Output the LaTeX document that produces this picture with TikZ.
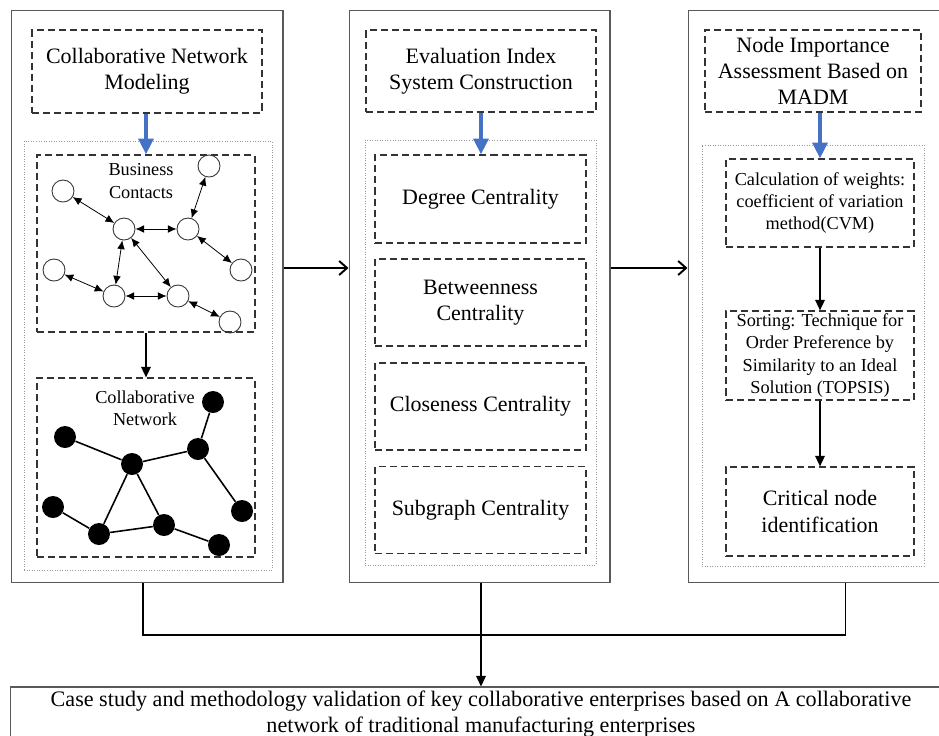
\documentclass[tikz,border=0pt]{standalone}
\usepackage{fontspec}
\setmainfont{Liberation Serif}
\usepackage{xcolor}
\usepackage{tikz}
\usetikzlibrary{arrows.meta,positioning,calc}
\definecolor{arrblue}{RGB}{68,114,196}
\tikzset{
  panel/.style={rectangle, draw=black!65, line width=0.6pt,
                minimum height=11.46cm, inner sep=0pt},
  holder/.style={rectangle, draw=black!40, densely dotted, line width=0.45pt},
  dbox/.style={rectangle, draw=black!80, dash pattern=on 4pt off 2.3pt,
               line width=0.75pt, align=center, inner sep=1pt,
               font=\fontsize{12.5}{14.7}\selectfont},
  sbox/.style={dbox, font=\fontsize{10.4}{12.8}\selectfont},
  lbl/.style={align=center, inner sep=1pt, font=\fontsize{10.4}{12.6}\selectfont},
  wnode/.style={circle, draw=black!80, line width=0.5pt, minimum size=0.44cm, inner sep=0pt},
  bnode/.style={circle, fill=black, minimum size=0.44cm, inner sep=0pt},
  link/.style={{Latex[length=5pt,width=4.4pt]}-{Latex[length=5pt,width=4.4pt]}, line width=0.45pt},
  tie/.style={line width=0.9pt},
  bluearr/.style={-{Triangle[length=9pt,width=8.5pt]}, draw=arrblue, line width=2pt},
  flow/.style={-{Triangle[length=6pt,width=5.5pt]}, line width=0.75pt},
  bigarr/.style={-{Straight Barb[length=4.5pt,width=8pt]}, line width=1.1pt},
  joint/.style={line width=0.6pt},
}

\begin{document}
\begin{tikzpicture}[x=0.02cm, y=-0.02cm]
  \useasboundingbox (0,0) rectangle (939,735);
  \clip (0,0) rectangle (939,735);
  % three stage panels
  \node[panel, minimum width=5.44cm] (pL) at (147,296.5) {};
  \node[panel, minimum width=5.22cm] (pM) at (479.5,296.5) {};
  \node[panel, minimum width=5.54cm] (pR) at (826.5,296.5) {};
  % stage 1: network modeling
  \node[dbox, minimum width=4.6cm, minimum height=1.66cm] (hL) at (147,71.5)
       {Collaborative Network\\Modeling};
  \node[holder, minimum width=4.96cm, minimum height=8.58cm] (gL) at (148,355.5) {};
  \node[dbox, minimum width=4.36cm, minimum height=3.54cm] (bc) at (146,243.5) {};
  \node[dbox, minimum width=4.36cm, minimum height=3.58cm] (cn) at (146,467.5) {};
  \node[lbl] (bcl) at (141,181) {Business\\Contacts};
  \node[lbl] (cnl) at (145,408.5) {Collaborative\\Network};
  % business contacts graph
  \node[wnode] (n1) at (63,191)  {};
  \node[wnode] (n2) at (124,229) {};
  \node[wnode] (n3) at (188,229) {};
  \node[wnode] (n4) at (209,166) {};
  \node[wnode] (n5) at (241,270) {};
  \node[wnode] (n6) at (54,270)  {};
  \node[wnode] (n7) at (114,296) {};
  \node[wnode] (n8) at (178,296) {};
  \node[wnode] (n9) at (230,322) {};
  \foreach \a/\b in {n1/n2, n2/n3, n3/n4, n3/n5, n2/n7, n2/n8, n6/n7, n7/n8, n8/n9}
    \draw[link] (\a) -- (\b);
  % collaborative network graph
  \node[bnode] (m1) at (65,437)  {};
  \node[bnode] (m2) at (132,464) {};
  \node[bnode] (m3) at (198,449) {};
  \node[bnode] (m4) at (213,402) {};
  \node[bnode] (m5) at (242,511) {};
  \node[bnode] (m6) at (53,507)  {};
  \node[bnode] (m7) at (99,534)  {};
  \node[bnode] (m8) at (164,525) {};
  \node[bnode] (m9) at (219,545) {};
  \foreach \a/\b in {m1/m2, m2/m3, m3/m4, m3/m5, m2/m7, m2/m8, m6/m7, m7/m8, m8/m9}
    \draw[tie] (\a) -- (\b);
  \draw[bluearr] (hL.south -| bc.north) -- (bc.north);
  \draw[flow] (bc.south) -- (cn.north);
  % stage 2: index system
  \node[dbox, minimum width=4.6cm, minimum height=1.64cm] (hM) at (481,71)
       {Evaluation Index\\System Construction};
  \node[holder, minimum width=4.62cm, minimum height=8.5cm] (gM) at (480.5,352.5) {};
  \node[dbox, minimum width=4.22cm, minimum height=1.76cm] (deg) at (480.5,199) {Degree Centrality};
  \node[dbox, minimum width=4.22cm, minimum height=1.74cm] (btw) at (480.5,302.5) {Betweenness\\Centrality};
  \node[dbox, minimum width=4.22cm, minimum height=1.74cm] (clo) at (480.5,406.5) {Closeness Centrality};
  \node[dbox, minimum width=4.22cm, minimum height=1.74cm] (sub) at (480.5,510) {Subgraph Centrality};
  \draw[bluearr] (hM.south) -- (hM.south |- deg.north);
  % stage 3: MADM assessment
  \node[dbox, minimum width=4.32cm, minimum height=1.64cm] (hR) at (813,71)
       {Node Importance\\Assessment Based on\\MADM};
  \node[holder, minimum width=4.44cm, minimum height=8.42cm] (gR) at (813,355.5) {};
  \node[sbox, minimum width=3.76cm, minimum height=1.76cm] (cvm) at (820,203)
       {Calculation of weights:\\coefficient of variation\\method(CVM)};
  \node[sbox, minimum width=3.76cm, minimum height=1.78cm] (tps) at (820,355.5)
       {Sorting: Technique for\\Order Preference by\\Similarity to an Ideal\\Solution (TOPSIS)};
  \node[dbox, minimum width=3.76cm, minimum height=1.78cm,
        font=\fontsize{12.5}{15}\selectfont] (crit) at (820,511.5)
       {Critical node\\identification};
  \draw[bluearr] (hR.south -| cvm.north) -- (cvm.north);
  \draw[flow] (cvm) -- (tps);
  \draw[flow] (tps) -- (crit);
  % panel to panel
  \draw[bigarr] ([yshift=0.57cm]pL.east) -- ([yshift=0.57cm]pM.west);
  \draw[bigarr] ([yshift=0.57cm]pM.east) -- ([yshift=0.57cm]pR.west);
  % validation stage
  \node[panel, minimum width=18.84cm, minimum height=1.08cm, align=center,
        font=\fontsize{12.6}{14.4}\selectfont] (case) at (481,714)
       {Case study and methodology validation of key collaborative enterprises based on A collaborative\\
        network of traditional manufacturing enterprises};
  \coordinate (jL) at (143,635);
  \draw[joint] (pL.south -| jL) -- (jL) -| ([xshift=3.16cm]pR.south west);
  \draw[flow, line width=0.6pt] (pM.south -| case.north) -- (case.north);
\end{tikzpicture}
\end{document}
